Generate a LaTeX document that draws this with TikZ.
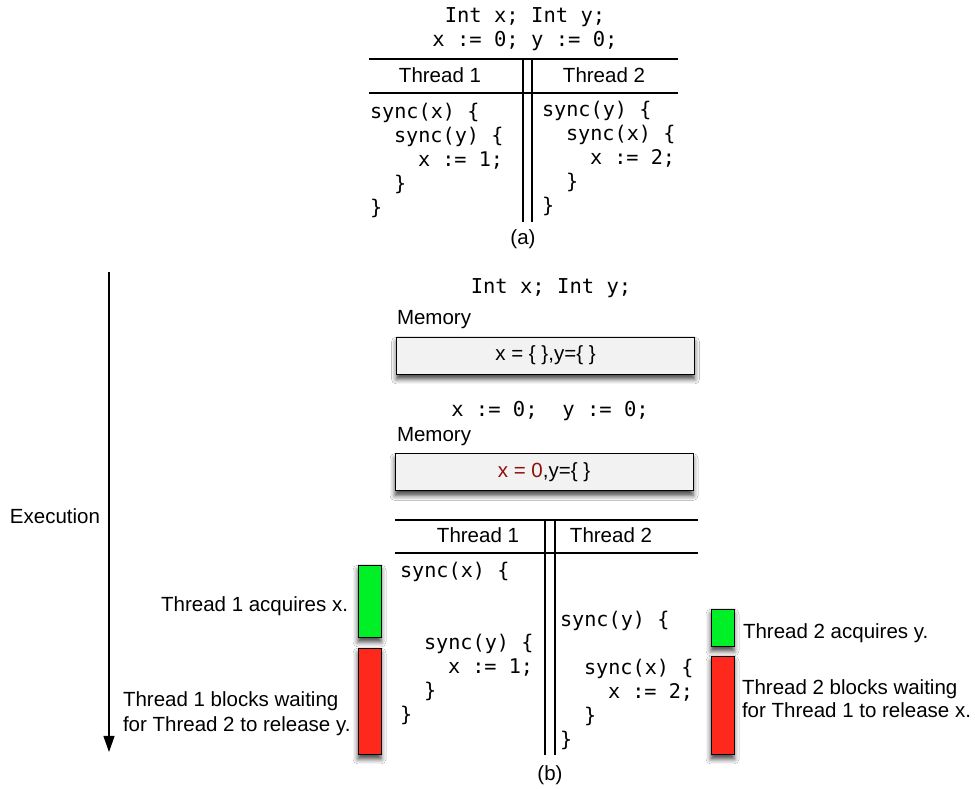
\documentclass[tikz,border=0pt]{standalone}
\usepackage{fontspec}
\setmainfont{Liberation Sans}
\newfontfamily\codefont{DejaVu Sans Mono}
\usetikzlibrary{arrows.meta,shadows.blur}

\tikzset{
  lbl/.style={text=drawColor,anchor=base,inner sep=0pt,outer sep=0pt,font=\fontsize{20.5}{24}\selectfont},
  code/.style={lbl,anchor=base west,font=\fontsize{20.2}{24}\codefont},
  rule/.style={draw=drawColor,line width=1.2pt},
  boxshadow/.style={blur shadow={shadow xshift=0pt,shadow yshift=-5pt,shadow blur radius=5pt,shadow opacity=75}},
  membox/.style={lbl,anchor=center,draw=drawColor,fill=memFill,line width=0.8pt,minimum width=298pt,minimum height=37pt,boxshadow},
  lockbox/.style={draw=drawColor,line width=0.8pt,inner sep=0pt,outer sep=0pt,minimum width=23pt,boxshadow}
}

\begin{document}
\begin{tikzpicture}[x=1pt,y=1pt]
\definecolor{fillColor}{RGB}{255,255,255}
\definecolor{drawColor}{RGB}{0,0,0}
\definecolor{memFill}{RGB}{242,242,242}
\definecolor{valColor}{RGB}{140,18,10}
\definecolor{gotColor}{RGB}{0,240,40}
\definecolor{waitColor}{RGB}{255,40,28}
\path[use as bounding box,fill=fillColor] (0,0) rectangle (975,789);

% (a) program
\node[lbl] (declA) at (525,766) {\codefont Int x; Int y;};
\node[lbl] (initA) at (525,742) {\codefont x := 0; y := 0;};

\path[rule] (369,730) -- (678,730);
\path[rule] (369,696) -- (678,696);
\path[rule] (523,730) -- (523,567);
\path[rule] (532,730) -- (532,567);

\node[lbl] (headA1) at (440,706) {Thread 1};
\node[lbl] (headA2) at (604,706) {Thread 2};

\node[code] (a1l1) at (370,670) {sync(x) \{};
\node[code] (a1l2) at (394,646) {sync(y) \{};
\node[code] (a1l3) at (418,622) {x := 1;};
\node[code] (a1l4) at (394,598) {\}};
\node[code] (a1l5) at (370,574) {\}};

\node[code] (a2l1) at (542,672) {sync(y) \{};
\node[code] (a2l2) at (566,648) {sync(x) \{};
\node[code] (a2l3) at (590,624) {x := 2;};
\node[code] (a2l4) at (566,600) {\}};
\node[code] (a2l5) at (542,576) {\}};

\node[lbl] (capA) at (523,544) {(a)};

% (b) execution
\coordinate (execTop) at (109,517);
\coordinate (execEnd) at (109,37);
\path[rule,-{Triangle[length=16pt,width=11pt]}] (execTop) -- (execEnd);
\node[lbl] (execLbl) at (55,265) {Execution};

\node[lbl] (declB) at (551,495) {\codefont Int x; Int y;};
\node[lbl,anchor=base west] (memLbl1) at (397,464) {Memory};
\node[membox] (mem1) at (545.5,433.5) {x = \{ \},y=\{ \}};

\node[lbl] (initB) at (550,372) {\codefont x := 0;\ \ y := 0;};
\node[lbl,anchor=base west] (memLbl2) at (397,347) {Memory};
\node[membox] (mem2) at (544,317) {\textcolor{valColor}{x = 0},y=\{ \}};

\path[rule] (395,269) -- (698,269);
\path[rule] (395,236) -- (698,236);
\path[rule] (545,269) -- (545,34);
\path[rule] (555,269) -- (555,34);

\node[lbl] (headB1) at (478,246) {Thread 1};
\node[lbl] (headB2) at (611,246) {Thread 2};

\node[code] (b1l1) at (400,211) {sync(x) \{};
\node[code] (b1l2) at (424,139) {sync(y) \{};
\node[code] (b1l3) at (448,115) {x := 1;};
\node[code] (b1l4) at (424,91) {\}};
\node[code] (b1l5) at (400,67) {\}};

\node[code] (b2l1) at (560,162) {sync(y) \{};
\node[code] (b2l2) at (584,114) {sync(x) \{};
\node[code] (b2l3) at (608,90) {x := 2;};
\node[code] (b2l4) at (584,66) {\}};
\node[code] (b2l5) at (560,42) {\}};

% lock states
\node[lockbox,fill=gotColor,minimum height=72pt] (got1) at (369.5,188) {};
\node[lockbox,fill=waitColor,minimum height=106pt] (wait1) at (369.5,88) {};
\node[lockbox,fill=gotColor,minimum height=37pt] (got2) at (722.5,161.5) {};
\node[lockbox,fill=waitColor,minimum height=98pt] (wait2) at (722.5,84) {};

\node[lbl,anchor=base east] (got1Lbl) at (348,177) {Thread 1 acquires x.};
\node[lbl,anchor=base west] (wait1Lbl) at (123,82) {Thread 1 blocks waiting};
\node[lbl,anchor=base west] (wait1Lbl2) at (123,57) {for Thread 2 to release y.};
\node[lbl,anchor=base west] (got2Lbl) at (743,150) {Thread 2 acquires y.};
\node[lbl,anchor=base west] (wait2Lbl) at (742,94) {Thread 2 blocks waiting};
\node[lbl,anchor=base west] (wait2Lbl2) at (742,71) {for Thread 1 to release x.};

\node[lbl] (capB) at (550,8) {(b)};
\end{tikzpicture}
\end{document}
